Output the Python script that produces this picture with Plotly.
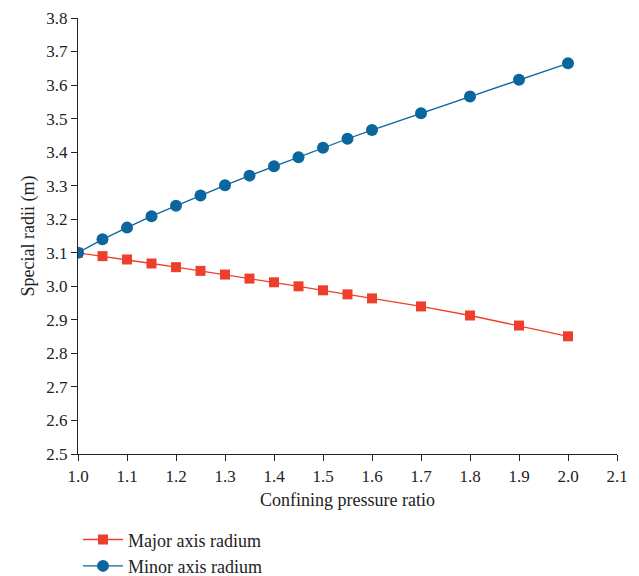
import plotly.graph_objects as go

ratio = [1.0, 1.05, 1.1, 1.15, 1.2, 1.25, 1.3, 1.35, 1.4, 1.45, 1.5, 1.55, 1.6, 1.7, 1.8, 1.9, 2.0]
major_radius = [3.100, 3.090, 3.080, 3.068, 3.057, 3.046, 3.035, 3.023, 3.012, 3.000, 2.988, 2.976, 2.964, 2.940, 2.913, 2.883, 2.851]
minor_radius = [3.100, 3.140, 3.175, 3.209, 3.240, 3.271, 3.301, 3.330, 3.358, 3.385, 3.413, 3.440, 3.466, 3.516, 3.566, 3.616, 3.665]
x_ticks = [1.0, 1.1, 1.2, 1.3, 1.4, 1.5, 1.6, 1.7, 1.8, 1.9, 2.0, 2.1]
y_ticks = [2.5, 2.6, 2.7, 2.8, 2.9, 3.0, 3.1, 3.2, 3.3, 3.4, 3.5, 3.6, 3.7, 3.8]

RED = "#EE3F2C"
BLUE = "#0A669C"
FONT = "Liberation Serif, DejaVu Serif, serif"

fig = go.Figure()
fig.add_trace(go.Scatter(x=ratio, y=major_radius, mode="lines+markers", name="Major axis radium",
                         line=dict(color=RED, width=1.3),
                         marker=dict(symbol="square", size=10, color=RED)))
fig.add_trace(go.Scatter(x=ratio, y=minor_radius, mode="lines+markers", name="Minor axis radium",
                         line=dict(color=BLUE, width=1.3),
                         marker=dict(symbol="circle", size=12, color=BLUE)))

fig.update_layout(
    width=639, height=576,
    margin=dict(l=78, r=22, t=18, b=122, autoexpand=False),
    paper_bgcolor="white", plot_bgcolor="white",
    font=dict(family=FONT, size=17, color="#222222"),
    showlegend=True,
    legend=dict(x=0.0, xanchor="left", y=0.095, yanchor="top", yref="container",
                orientation="v",
                font=dict(family=FONT, size=18, color="#222222"), tracegroupgap=0,
                itemwidth=40),
    xaxis=dict(range=[1.0, 2.1], tickvals=x_ticks, ticktext=[f"{v:.1f}" for v in x_ticks],
               showline=True, linecolor="#222222", linewidth=1.2, ticks="outside", ticklen=6,
               tickcolor="#222222", showgrid=False, zeroline=False,
               title=dict(text="Confining pressure ratio", font=dict(family=FONT, size=18), standoff=8)),
    yaxis=dict(range=[2.5, 3.8], tickvals=y_ticks, ticktext=[f"{v:.1f}" for v in y_ticks],
               showline=True, linecolor="#222222", linewidth=1.2, ticks="outside", ticklen=6,
               tickcolor="#222222", showgrid=False, zeroline=False,
               title=dict(text="Special radii (m)", font=dict(family=FONT, size=18), standoff=6)),
)

fig.write_html("out.html")
